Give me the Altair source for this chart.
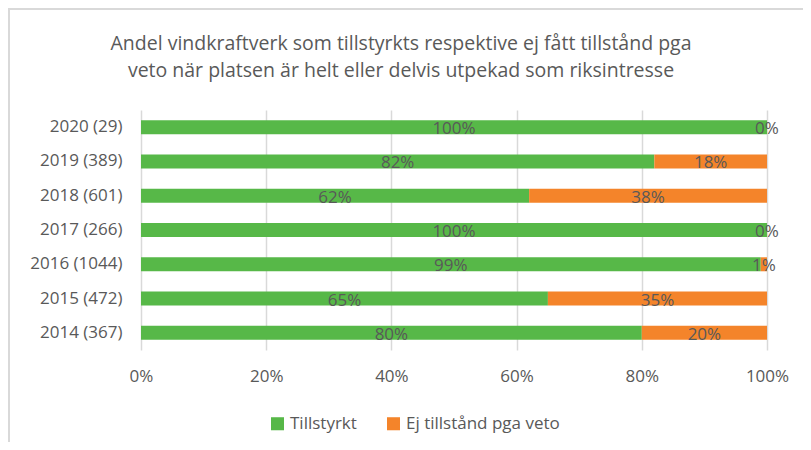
import altair as alt
import pandas as pd

categories = ["2020 (29)", "2019 (389)", "2018 (601)", "2017 (266)", "2016 (1044)", "2015 (472)", "2014 (367)"]
tillstyrkt = [1.00, 0.82, 0.62, 1.00, 0.99, 0.65, 0.80]
ej_veto = [0.00, 0.18, 0.38, 0.00, 0.01, 0.35, 0.20]
series = ["Tillstyrkt", "Ej tillstånd pga veto"]
colors = ["#57B848", "#F4842A"]
x_ticks = [0, 0.2, 0.4, 0.6, 0.8, 1.0]

rows = []
for c, g, o in zip(categories, tillstyrkt, ej_veto):
    rows.append({"cat": c, "serie": series[0], "value": g, "start": 0.0, "end": g})
    rows.append({"cat": c, "serie": series[1], "value": o, "start": g, "end": g + o})
df = pd.DataFrame(rows)
df["mid"] = (df["start"] + df["end"]) / 2

FONT = "Open Sans"
GRAY = "#595959"
FS = 17

y_enc = alt.Y("cat:N", sort=categories, title=None,
              scale=alt.Scale(paddingInner=0, paddingOuter=0),
              axis=alt.Axis(domain=False, ticks=False, labelPadding=19,
                            labelFontSize=FS, labelColor=GRAY, labelFont=FONT))

bars = alt.Chart(df).mark_bar(size=14).encode(
    y=y_enc,
    x=alt.X("start:Q", title=None,
            scale=alt.Scale(domain=[0, 1], nice=False),
            axis=alt.Axis(values=x_ticks, format=".0%", domain=False, ticks=False,
                          grid=True, gridColor="#D9D9D9", gridWidth=1.5,
                          labelFlush=False,
                          labelPadding=18, labelFontSize=FS, labelColor=GRAY,
                          labelFont=FONT)),
    x2="end:Q",
    color=alt.Color("serie:N", scale=alt.Scale(domain=series, range=colors),
                    legend=alt.Legend(title=None, orient="none", direction="horizontal",
                                      legendX=128, legendY=305, symbolType="square",
                                      symbolSize=170, symbolStrokeWidth=0,
                                      labelFontSize=FS, labelColor=GRAY, labelFont=FONT,
                                      columnPadding=28, symbolOffset=0, padding=0,
                                      labelLimit=400)),
)

labels = alt.Chart(df).mark_text(fontSize=FS, color=GRAY, font=FONT, baseline="middle", dy=2).encode(
    y=alt.Y("cat:N", sort=categories),
    x=alt.X("mid:Q"),
    text=alt.Text("value:Q", format=".0%"),
)

border = alt.Chart(df).mark_rect(filled=False, stroke="#D9D9D9", strokeWidth=2).encode(
    x=alt.value(-132), x2=alt.value(700), y=alt.value(-101), y2=alt.value(360),
)

chart = alt.layer(bars, labels, border).properties(
    width=626, height=240,
    title=alt.TitleParams(
        text=["Andel vindkraftverk som tillstyrkts respektive ej fått tillstånd pga",
              "veto när platsen är helt eller delvis utpekad som riksintresse"],
        fontSize=19.5, font=FONT, fontWeight="normal", color=GRAY,
        lineHeight=27, anchor="middle", dx=-53, offset=-73,
    ),
    autosize=alt.AutoSizeParams(type="none"),
    padding={"left": 133, "top": 102, "right": 36, "bottom": 92},
).configure_view(stroke=None)

chart.save("out.html", embed_options={"renderer": "svg", "actions": False})
